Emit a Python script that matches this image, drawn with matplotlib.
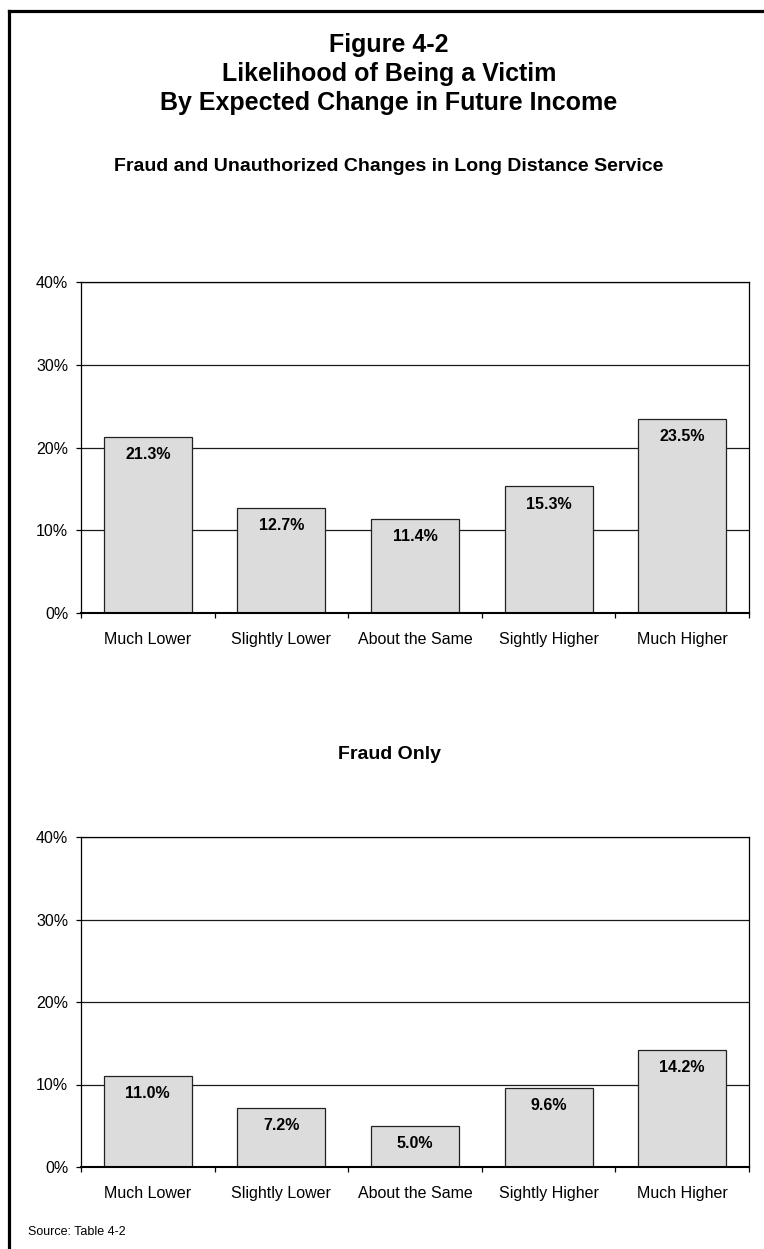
import matplotlib
matplotlib.use("Agg")
import matplotlib.pyplot as plt
from matplotlib.lines import Line2D
from matplotlib.ticker import FuncFormatter

plt.rcParams['font.family'] = ['Liberation Sans', 'DejaVu Sans']

categories = ["Much Lower", "Slightly Lower", "About the Same", "Sightly Higher", "Much Higher"]
fraud_and_slamming = [21.3, 12.7, 11.4, 15.3, 23.5]
fraud_only = [11.0, 7.2, 5.0, 9.6, 14.2]
y_ticks = [0, 10, 20, 30, 40]

W, H = 764, 1249
fig = plt.figure(figsize=(W / 100, H / 100), dpi=100)


def px_box(left, top, right, bottom):
    return [left / W, 1 - bottom / H, (right - left) / W, (bottom - top) / H]


def draw_panel(ax, values):
    x = list(range(len(categories)))
    ax.set_axisbelow(True)
    ax.yaxis.grid(True, color="#1a1a1a", linewidth=0.9)
    bars = ax.bar(x, values, width=0.66, color="#dcdcdc", edgecolor="#222222",
                  linewidth=0.9, zorder=2)
    for rect, v in zip(bars, values):
        ax.annotate(f"{v:.1f}%", (rect.get_x() + rect.get_width() / 2, v),
                    xytext=(0, -16), textcoords="offset points",
                    ha="center", va="baseline", fontsize=11.5, fontweight="bold",
                    zorder=3)
    ax.set_xlim(-0.5, len(categories) - 0.5)
    ax.set_ylim(0, 40)
    ax.set_yticks(y_ticks)
    ax.yaxis.set_major_formatter(FuncFormatter(lambda v, _: f"{v:.0f}%"))
    ax.set_xticks(x)
    ax.set_xticklabels(categories)
    ax.set_xticks([i + 0.5 for i in range(-1, len(categories))], minor=True)
    ax.tick_params(axis="x", which="major", length=0, pad=14, labelsize=11.5)
    ax.tick_params(axis="x", which="minor", length=3.6, width=0.9, direction="out")
    ax.tick_params(axis="y", length=3.6, width=0.9, pad=5.5, labelsize=11.5)
    for side in ("left", "right", "top"):
        ax.spines[side].set_linewidth(0.9)
    ax.spines["bottom"].set_linewidth(1.5)


ax1 = fig.add_axes(px_box(81, 282, 749, 613))
draw_panel(ax1, fraud_and_slamming)
ax2 = fig.add_axes(px_box(81, 837, 749, 1167))
draw_panel(ax2, fraud_only)

cx = 389 / W
fig.text(cx, 1 - 52 / H, "Figure 4-2", ha="center", va="baseline", fontsize=18, fontweight="bold")
fig.text(cx, 1 - 81 / H, "Likelihood of Being a Victim", ha="center", va="baseline",
         fontsize=18, fontweight="bold")
fig.text(cx, 1 - 110 / H, "By Expected Change in Future Income", ha="center", va="baseline",
         fontsize=18, fontweight="bold")
fig.text(cx, 1 - 171 / H, "Fraud and Unauthorized Changes in Long Distance Service",
         ha="center", va="baseline", fontsize=14, fontweight="bold")
fig.text(cx, 1 - 759 / H, "Fraud Only", ha="center", va="baseline", fontsize=14,
         fontweight="bold")
fig.text(28 / W, 1 - 1232 / H, "Source: Table 4-2", ha="left", va="center", fontsize=9)

# Page frame along the top and left edges
fig.add_artist(Line2D([8.5 / W, 8.5 / W], [0, 1 - 10.5 / H], color="black", linewidth=2.3,
                      transform=fig.transFigure, solid_capstyle="projecting"))
fig.add_artist(Line2D([8.5 / W, 1], [1 - 10.5 / H, 1 - 10.5 / H], color="black", linewidth=2.3,
                      transform=fig.transFigure, solid_capstyle="projecting"))

fig.savefig("out.png", dpi=100, facecolor="white")
